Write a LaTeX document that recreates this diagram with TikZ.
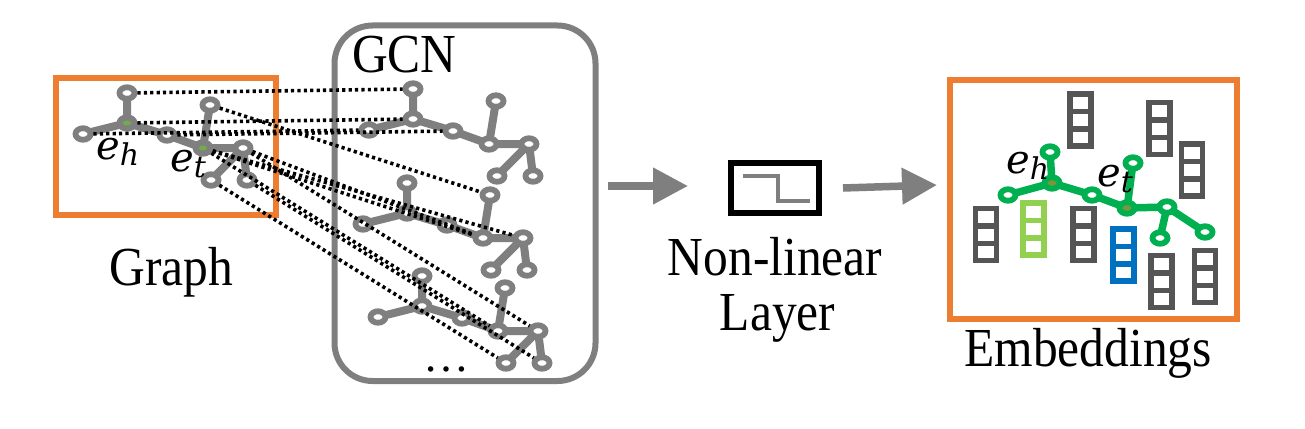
\RequirePackage{fix-cm}
\documentclass[tikz,border=0pt]{standalone}
\usepackage{fontspec}
\setmainfont{Liberation Serif}
\newfontfamily\dvsi{DejaVu Serif Italic}
\usepackage{graphicx}
\usetikzlibrary{shapes.geometric,arrows.meta}
\pgfdeclarelayer{bg}
\pgfsetlayers{bg,main}
\definecolor{orng}{RGB}{237,125,49}
\definecolor{gry}{RGB}{127,127,127}
\definecolor{dgry}{RGB}{85,85,85}
\definecolor{grn}{RGB}{0,176,80}
\definecolor{lgrn}{RGB}{146,208,80}
\definecolor{blu}{RGB}{0,112,192}
\definecolor{olv}{RGB}{125,150,60}
\definecolor{hubdot}{RGB}{112,173,71}
\newcommand{\bigtxt}{\fontsize{55}{60}\selectfont}
\newcommand{\sx}[1]{\scalebox{0.9}[1]{#1}}
\newcommand{\esub}[1]{{\fontsize{40}{44}\selectfont\dvsi e\raisebox{-0.3ex}{\fontsize{30}{33}\selectfont #1}}}
\newcommand{\mkgraph}[5]{%
  \node[#4] (#1A) at (#2+0,#3-30) {};
  \node[#5] (#1B) at (#2,#3) {};
  \node[#4] (#1C) at (#2-44,#3+11) {};
  \node[#4] (#1D) at (#2+40,#3+12) {};
  \node[#5] (#1E) at (#2+76,#3+25) {};
  \node[#4] (#1F) at (#2+83,#3-18) {};
  \node[#4] (#1G) at (#2+116,#3+25) {};
  \node[#4] (#1H) at (#2+84,#3+57) {};
  \node[#4] (#1I) at (#2+120,#3+57) {};
}
\newcommand{\mkedges}[2]{%
  \begin{pgfonlayer}{bg}
  \draw[#2] (#1A.center) -- (#1B.center)
    (#1C.center) -- (#1B.center) -- (#1D.center) -- (#1E.center) -- (#1G.center)
    (#1E.center) -- (#1F.center)
    (#1G.center) -- (#1H.center)
    (#1G.center) -- (#1I.center);
  \end{pgfonlayer}}
\newcommand{\vect}[4]{%
  \node[vecbox, draw=#4] (#1) at (#2,#3) {};
  \draw[#4, line width=5.5pt] ([yshift=8.75pt]#1.west) -- ([yshift=8.75pt]#1.east)
    ([yshift=-8.75pt]#1.west) -- ([yshift=-8.75pt]#1.east);}
\begin{document}
\begin{tikzpicture}[x=1pt,y=-1pt,
  gnode/.style={ellipse, draw=gry, fill=white, line width=5.8pt, minimum width=15pt, minimum height=11.5pt, inner sep=0pt},
  lhub/.style={gnode, fill=gry},
  mnode/.style={gnode, draw=grn},
  mhub/.style={mnode, fill=olv},
  gedge/.style={gry, line width=8pt, line cap=round, line join=round},
  medge/.style={grn, line width=7.5pt, line cap=round, line join=round},
  dotline/.style={black, line width=3.6pt, dash pattern=on 3.2pt off 3.2pt},
  frame/.style={draw=orng, line width=6pt, inner sep=0pt},
  vecbox/.style={rectangle, line width=5.5pt, minimum width=21pt, minimum height=52pt, inner sep=0pt},
  lbl/.style={inner sep=0pt, font=\bigtxt},
  mlbl/.style={inner sep=0pt},
  bigarrow/.style={gry, line width=7.5pt, -{Triangle[length=35pt,width=35pt]}}
]
\useasboundingbox (0,0) rectangle (1305,428);
\begin{pgfonlayer}{bg}
\fill[white] (0,0) rectangle (1305,428);
\end{pgfonlayer}

% frames
\node[frame, minimum width=220pt, minimum height=137pt] (gbox) at (165.5,146) {};
\node[draw=gry, line width=6pt, rounded corners=38pt, minimum width=261pt, minimum height=355.5pt, inner sep=0pt] (gcnbox) at (465,203.25) {};
\node[frame, minimum width=286.5pt, minimum height=239pt] (embbox) at (1093.25,199.5) {};

% left graph
\mkgraph{L}{127}{123}{gnode}{lhub}
\mkedges{L}{gedge}
\fill[hubdot] (LB.center) ellipse (4 and 2.5);
\fill[hubdot] (LE.center) ellipse (4 and 2.5);

% GCN graphs
\mkgraph{P}{413}{119}{gnode}{gnode}
\mkedges{P}{gedge}
\mkgraph{Q}{407}{213}{gnode}{gnode}
\mkedges{Q}{gedge}
\mkgraph{R}{422}{306}{gnode}{gnode}
\mkedges{R}{gedge}

% embedding vectors
\vect{v1}{1080.5}{120}{dgry}
\vect{v2}{1159.5}{128.5}{dgry}
\vect{v3}{1192}{170}{dgry}
\vect{v4}{986}{234.5}{dgry}
\vect{v5}{1033.5}{229}{lgrn}
\vect{v6}{1083.5}{234.5}{dgry}
\vect{v7}{1123.5}{255}{blu}
\vect{v8}{1161.5}{281.5}{dgry}
\vect{v9}{1205}{276.5}{dgry}

% embedding graph
\node[mnode] (MA) at (1050,152) {};
\node[mhub]  (MB) at (1052,183) {};
\node[mnode] (MC) at (1008,195) {};
\node[mnode] (MD) at (1092,195) {};
\node[mhub]  (ME) at (1127,208) {};
\node[mnode] (MF) at (1133,163) {};
\node[mnode] (MG) at (1167,207) {};
\node[mnode] (MH) at (1160,238) {};
\node[mnode] (MI) at (1205,232) {};
\mkedges{M}{medge}

% labels e_h, e_t
\node[mlbl, anchor=base west] (leh) at (96,159) {\esub{h}};
\node[mlbl, anchor=base west] (let) at (170,171) {\esub{t}};
\node[mlbl, anchor=base west] (meh) at (1006,173) {\esub{h}};
\node[mlbl, anchor=base west] (met) at (1097,186) {\esub{t}};

% dotted correspondences
\draw[dotline] (LA) -- (PA);
\draw[dotline] (LB) -- (PB);
\draw[dotline] (LC) -- (PC);
\draw[dotline] (LD) -- (PD);
\draw[dotline] (LF) -- (QF);
\draw[dotline] (LE) -- (QG);
\draw[dotline] (LE) -- (QE);
\draw[dotline] (LG) -- (QE);
\draw[dotline] (LE) -- (RE);
\draw[dotline] (LG) -- (RG);
\draw[dotline] (LH) -- (RH);
\draw[dotline] (LI) -- (RI);

% non-linear layer
\node[draw=black, line width=6pt, minimum width=88.4pt, minimum height=49.2pt, inner sep=0pt] (nl) at (775,188) {};
\draw[gry, line width=3.2pt] ([shift={(-32,-12)}]nl.center) -- ([shift={(3,-12)}]nl.center)
  -- ([shift={(3,13)}]nl.center) -- ([shift={(35,13)}]nl.center);

% arrows
\coordinate (a1s) at (608,186);
\coordinate (a1e) at (688,186);
\coordinate (a2s) at (843,188);
\coordinate (a2e) at (937,185);
\draw[bigarrow] (a1s) -- (a1e);
\draw[bigarrow] (a2s) -- (a2e);

% texts
\node[lbl, anchor=base west] (tgcn) at (352,73) {\sx{GCN}};
\node[lbl, anchor=base] (tgraph) at (171.5,285) {\sx{Graph}};
\node[lbl, anchor=base] (tnl) at (775,275) {\sx{Non-linear}};
\node[lbl, anchor=base] (tlayer) at (777.5,330) {\sx{Layer}};
\node[lbl, anchor=base] (temb) at (1088,366) {\sx{Embeddings}};
\node[inner sep=0pt, font=\fontsize{46}{50}\selectfont, anchor=base] (tdots) at (446,371) {…};
\end{tikzpicture}
\end{document}
